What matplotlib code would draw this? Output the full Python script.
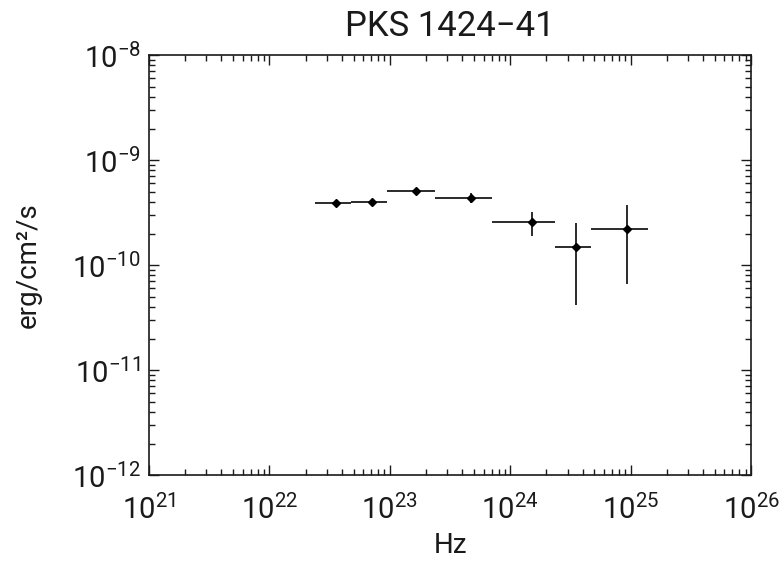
import numpy as np
import matplotlib
matplotlib.use("Agg")
import matplotlib.pyplot as plt
from matplotlib.ticker import LogLocator

# flux points (Hz, erg/cm^2/s)
freq = [3.57e22, 7.08e22, 1.64e23, 4.70e23, 1.52e24, 3.52e24, 9.29e24]
freq_lo = [2.39e22, 4.77e22, 9.5e22, 2.37e23, 7.06e23, 2.36e24, 4.69e24]
freq_hi = [4.77e22, 9.5e22, 2.37e23, 7.06e23, 2.36e24, 4.69e24, 1.39e25]
flux = [3.92e-10, 4.01e-10, 5.07e-10, 4.38e-10, 2.55e-10, 1.48e-10, 2.20e-10]
flux_lo = [3.70e-10, 3.73e-10, 4.68e-10, 3.87e-10, 1.89e-10, 4.13e-11, 6.55e-11]
flux_hi = [4.15e-10, 4.25e-10, 5.41e-10, 4.89e-10, 3.20e-10, 2.53e-10, 3.73e-10]

plt.rcParams["font.family"] = ["Roboto", "DejaVu Sans"]
plt.rcParams["mathtext.fontset"] = "custom"
plt.rcParams["mathtext.rm"] = "Roboto"
plt.rcParams["mathtext.it"] = "Roboto"

ink = "#1a1a1a"

fig = plt.figure(figsize=(7.84, 5.63), dpi=100)
ax = fig.add_axes([0.190, 0.156, 0.768, 0.746])

freq = np.array(freq)
flux = np.array(flux)
xerr = [freq - np.array(freq_lo), np.array(freq_hi) - freq]
yerr = [flux - np.array(flux_lo), np.array(flux_hi) - flux]

ax.errorbar(freq, flux, xerr=xerr, yerr=yerr, fmt="D", ms=4, color="black",
            ecolor=ink, elinewidth=1.3, capsize=0)

ax.set_xscale("log")
ax.set_yscale("log")
ax.set_xlim(1e21, 1e26)
ax.set_ylim(1e-12, 1e-8)

ax.xaxis.set_major_locator(LogLocator(base=10, numticks=10))
ax.yaxis.set_major_locator(LogLocator(base=10, numticks=10))
ax.xaxis.set_minor_locator(LogLocator(base=10, subs=np.arange(2, 10), numticks=20))
ax.yaxis.set_minor_locator(LogLocator(base=10, subs=np.arange(2, 10), numticks=20))

ax.tick_params(which="both", direction="in", top=True, right=True,
               labelsize=21, color=ink, labelcolor=ink)
ax.tick_params(axis="x", pad=14)
ax.tick_params(axis="y", pad=6)
ax.tick_params(which="major", length=7, width=1)
ax.tick_params(which="minor", length=4.5, width=1)
for s in ax.spines.values():
    s.set_linewidth(1.2)
    s.set_color(ink)

ax.set_title("PKS 1424\u221241", fontsize=25, pad=14, color=ink)
ax.set_xlabel("Hz", fontsize=20, labelpad=5, color=ink)
ax.set_ylabel("erg/cm\u00b2/s", fontsize=20, labelpad=22, color=ink)

fig.savefig("out.png", dpi=100)
